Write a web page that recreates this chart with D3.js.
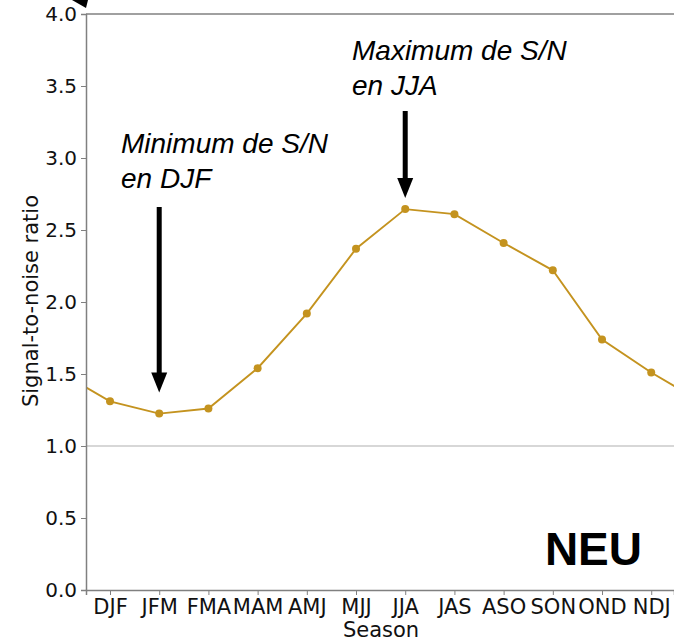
<!DOCTYPE html>
<html>
<head>
<meta charset="utf-8">
<script src="https://cdn.jsdelivr.net/npm/d3@7"></script>
<style>
  body { margin: 0; background: #fff; }
  svg { display: block; }
</style>
</head>
<body>
<script>
// 画布
const width = 674;
const height = 644;

// 数据
const seasons = ['DJF', 'JFM', 'FMA', 'MAM', 'AMJ', 'MJJ', 'JJA', 'JAS', 'ASO', 'SON', 'OND', 'NDJ'];
const snr = [1.31, 1.225, 1.26, 1.54, 1.92, 2.37, 2.645, 2.61, 2.41, 2.22, 1.74, 1.51];
const yTicks = [0.0, 0.5, 1.0, 1.5, 2.0, 2.5, 3.0, 3.5, 4.0];

// 绘图区
const plot = {left: 86, right: 674, top: 14, bottom: 590};

// x 比例尺 (季节序号)
const xScale = d3.scaleLinear()
  .domain([-0.488, 11.463])
  .range([plot.left, plot.right]);

const yScale = d3.scaleLinear()
  .domain([0, 4])
  .range([plot.bottom, plot.top]);

const svg = d3.select('body').append('svg')
  .attr('width', width)
  .attr('height', height);

svg.append('defs').append('clipPath').attr('id', 'clip')
  .append('rect')
  .attr('x', plot.left).attr('y', plot.top)
  .attr('width', plot.right - plot.left).attr('height', plot.bottom - plot.top);

// 1.0 参考线
svg.append('line')
  .attr('x1', plot.left).attr('x2', plot.right)
  .attr('y1', yScale(1)).attr('y2', yScale(1))
  .attr('stroke', '#b0b0b0').attr('stroke-width', 1.2);

// 循环数据：两端各补一个点
const pts = snr.map((d, i) => [i, d]);
const wrapped = [[-1, snr[snr.length - 1]], ...pts, [snr.length, snr[0]]];

const lineColor = '#c4931f';
const g = svg.append('g').attr('clip-path', 'url(#clip)');
g.append('path')
  .datum(wrapped)
  .attr('d', d3.line().x(d => xScale(d[0])).y(d => yScale(d[1])))
  .attr('fill', 'none')
  .attr('stroke', lineColor)
  .attr('stroke-width', 1.9);

g.selectAll('.dot')
  .data(pts)
  .enter()
  .append('circle')
  .attr('class', 'dot')
  .attr('cx', d => xScale(d[0]))
  .attr('cy', d => yScale(d[1]))
  .attr('r', 4)
  .attr('fill', lineColor);

// 坐标轴
const xAxis = d3.axisBottom(xScale)
  .tickValues(d3.range(seasons.length))
  .tickFormat(i => seasons[i])
  .tickSizeOuter(0)
  .tickSize(5)
  .tickPadding(4);

const yAxis = d3.axisLeft(yScale)
  .tickValues(yTicks)
  .tickFormat(d3.format('.1f'))
  .tickSizeOuter(0)
  .tickSize(5)
  .tickPadding(4);

const axisColor = '#808080';

const gx = svg.append('g')
  .attr('transform', `translate(0,${plot.bottom})`)
  .call(xAxis);
gx.select('.domain').attr('stroke', axisColor).attr('stroke-width', 1.5);
gx.selectAll('.tick line').attr('stroke', axisColor);
gx.selectAll('.tick text')
  .attr('fill', '#111')
  .style('font-family', 'DejaVu Sans')
  .style('font-size', '21px');

const gy = svg.append('g')
  .attr('transform', `translate(${plot.left},0)`)
  .call(yAxis);
gy.select('.domain').attr('stroke', axisColor).attr('stroke-width', 1.5);
gy.selectAll('.tick line').attr('stroke', axisColor);
gy.selectAll('.tick text')
  .attr('fill', '#111')
  .style('font-family', 'DejaVu Sans')
  .style('font-size', '20px');

// 顶边框
svg.append('line')
  .attr('x1', plot.left).attr('x2', plot.right)
  .attr('y1', plot.top).attr('y2', plot.top)
  .attr('stroke', axisColor).attr('stroke-width', 1.5);

// 轴标题
svg.append('text')
  .attr('x', 381)
  .attr('y', 637)
  .attr('text-anchor', 'middle')
  .style('font-family', 'DejaVu Sans')
  .style('font-size', '21px')
  .attr('fill', '#111')
  .text('Season');

svg.append('text')
  .attr('transform', 'translate(38,301) rotate(-90)')
  .attr('text-anchor', 'middle')
  .style('font-family', 'DejaVu Sans')
  .style('font-size', '21px')
  .attr('fill', '#111')
  .text('Signal-to-noise ratio');

// 注释箭头
function arrow(x, y1, y2) {
  const head = 20, hw = 8;
  svg.append('rect')
    .attr('x', x - 2.5).attr('y', y1)
    .attr('width', 5).attr('height', y2 - head - y1 + 1)
    .attr('fill', '#000');
  svg.append('path')
    .attr('d', `M${x - hw},${y2 - head} L${x + hw},${y2 - head} L${x},${y2} Z`)
    .attr('fill', '#000');
}
arrow(xScale(1), 207, yScale(snr[1]) - 21);
arrow(xScale(6), 111, yScale(snr[6]) - 11);

// 左上角被裁掉的箭头
svg.append('path')
  .attr('d', 'M72,0 L88,0 L86,8 Z')
  .attr('fill', '#000');

function note(x, y, lines) {
  const t = svg.append('text')
    .attr('x', x).attr('y', y)
    .style('font-family', 'Liberation Sans, Arial, sans-serif')
    .style('font-style', 'italic')
    .style('font-size', '28px')
    .attr('fill', '#000');
  lines.forEach((s, i) => {
    t.append('tspan').attr('x', x).attr('dy', i === 0 ? 0 : 35).text(s);
  });
}
note(121, 153, ['Minimum de S/N', 'en DJF']);
note(352, 60, ['Maximum de S/N', 'en JJA']);

svg.append('text')
  .attr('x', 642).attr('y', 565)
  .attr('text-anchor', 'end')
  .style('font-family', 'Liberation Sans, Arial, sans-serif')
  .style('font-weight', 'bold')
  .style('font-size', '46px')
  .attr('fill', '#000')
  .text('NEU');
</script>
</body>
</html>
